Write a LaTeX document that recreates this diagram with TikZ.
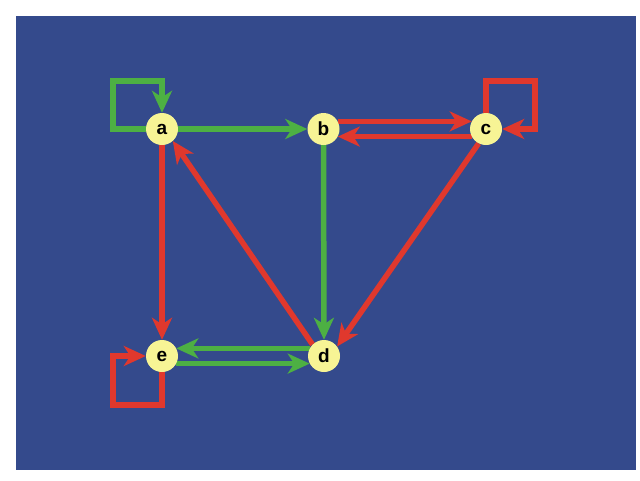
\documentclass[tikz,border=0pt]{standalone}
\usepackage{fontspec}
\setmainfont{Liberation Sans}
\usetikzlibrary{arrows.meta}
\definecolor{bgblue}{HTML}{344A8C}
\definecolor{egreen}{HTML}{4DB043}
\definecolor{ered}{HTML}{E0382D}
\definecolor{nyellow}{HTML}{F7F495}
\pgfdeclarelayer{bglayer}
\pgfdeclarelayer{edgelayer}
\pgfsetlayers{bglayer,edgelayer,main}
\begin{document}
\begin{tikzpicture}[x=1pt,y=-1pt,
  vtx/.style={circle,fill=nyellow,minimum size=32pt,inner sep=0pt,font=\fontsize{19}{19}\selectfont\bfseries},
  edgebase/.style={line width=5.5pt,-{Stealth[length=22pt,width=20pt,inset=6.5pt]}},
  ge/.style={edgebase,draw=egreen},
  re/.style={edgebase,draw=ered}]
\useasboundingbox (0,0) rectangle (640,480);
\begin{pgfonlayer}{bglayer}
\fill[white] (0,0) rectangle (640,480);
\fill[bgblue] (16,16) rectangle (636,470);
\end{pgfonlayer}
\node[vtx] (a) at (162,129) {a};
\node[vtx] (b) at (323.5,129) {b};
\node[vtx] (c) at (486,129) {c};
\node[vtx] (d) at (324,356) {d};
\node[vtx] (e) at (162,356) {e};
\coordinate (aL) at (113,81);
\coordinate (cL) at (535,81);
\coordinate (eL) at (113,405);
\begin{pgfonlayer}{edgelayer}
\draw[ge] (a.west) -| (aL) -| (a.north);
\draw[re] (c.north) |- (cL) |- (c.east);
\draw[re] (e.south) |- (eL) |- (e.west);
\draw[ge] (a.east) -- (b.west);
\draw[re] (b.28) -- (c.152);
\draw[re] (c.208) -- (b.332);
\draw[re] (a.south) -- (e.north);
\draw[ge] (b.south) -- (d.north);
\draw[re] (c.243) -- (d.36);
\draw[re] (d.135) -- (a.312);
\draw[ge] (d.152) -- (e.28);
\draw[ge] (e.332) -- (d.208);
\end{pgfonlayer}
\end{tikzpicture}
\end{document}
